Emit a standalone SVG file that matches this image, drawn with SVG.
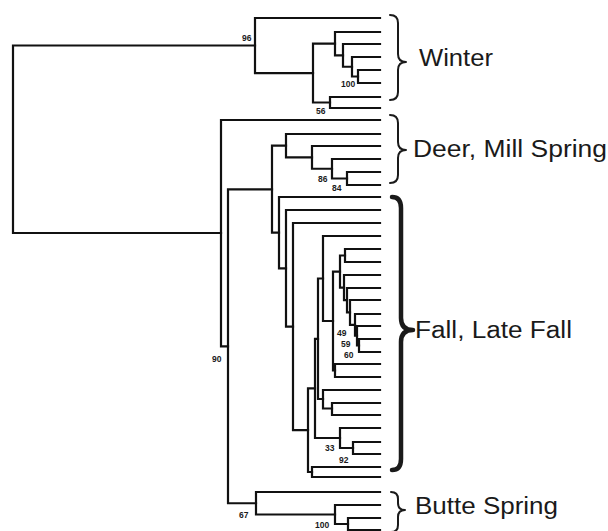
<svg xmlns="http://www.w3.org/2000/svg" width="608" height="531" viewBox="0 0 608 531">
<style>
.br{fill:none;stroke:#111;stroke-width:2.2;stroke-linecap:square;stroke-linejoin:miter}
.bs{font-family:"Liberation Sans",Arial,sans-serif;font-size:8.5px;font-weight:bold;fill:#1a1a1a}
.brace{fill:none;stroke:#1a1a1a;stroke-width:2;stroke-linecap:round;stroke-linejoin:round}
.lab{font-family:"Liberation Sans",Arial,sans-serif;font-size:23px;fill:#1a1a1a}
</style>
<rect width="608" height="531" fill="#fff"/>
<g id="connectors" class="br">
<path d="M255,45.5 H13 V233 H221"/>
<path d="M380,18 H255 V73.1 H313"/>
<path d="M335,43.7 H313 V102.5 H330"/>
<path d="M380,32 H335 V55.4 H343"/>
<path d="M380,44 H343 V66.75 H352"/>
<path d="M380,57 H352 V76.5 H358"/>
<path d="M380,70 H358 V83 H380"/>
<path d="M380,97 H330 V108 H380"/>
<path d="M380,120 H221 V346.3 H228"/>
<path d="M272,189.3 H228 V503.25 H256"/>
<path d="M286,145.7 H272 V232.7 H279"/>
<path d="M380,134 H286 V157.4 H312"/>
<path d="M380,146 H312 V168.75 H332"/>
<path d="M380,159 H332 V178.5 H347"/>
<path d="M380,172 H347 V185 H380"/>
<path d="M380,197 H279 V268.3 H286"/>
<path d="M380,210 H286 V326.6 H293"/>
<path d="M380,223 H293 V430.2 H308"/>
<path d="M315,388.4 H308 V472 H312"/>
<path d="M380,467 H312 V477 H380"/>
<path d="M318,338.8 H315 V438 H340"/>
<path d="M380,428 H340 V448 H353"/>
<path d="M380,442 H353 V454 H380"/>
<path d="M323,278.5 H318 V399 H323"/>
<path d="M380,390 H323 V408.5 H332"/>
<path d="M380,403 H332 V415 H380"/>
<path d="M380,236 H323 V321 H333"/>
<path d="M340,271.6 H333 V370.5 H335"/>
<path d="M380,364 H335 V377 H380"/>
<path d="M345,255.5 H340 V287.6 H344"/>
<path d="M380,249 H345 V262 H380"/>
<path d="M380,275 H344 V300.2 H347"/>
<path d="M380,288 H347 V312.4 H350"/>
<path d="M380,300 H350 V324.9 H355"/>
<path d="M380,314 H355 V335.75 H357"/>
<path d="M380,326 H357 V345.5 H359"/>
<path d="M380,339 H359 V352 H380"/>
<path d="M380,492 H256 V514.5 H335"/>
<path d="M380,505 H335 V524 H348"/>
<path d="M380,518 H348 V530 H380"/>
</g>
<g id="support">
<text class="bs" x="242" y="41">96</text>
<text class="bs" x="341" y="87">100</text>
<text class="bs" x="316" y="114">56</text>
<text class="bs" x="318" y="182">86</text>
<text class="bs" x="332" y="191">84</text>
<text class="bs" x="212" y="362">90</text>
<text class="bs" x="337" y="336">49</text>
<text class="bs" x="341" y="347">59</text>
<text class="bs" x="344" y="358">60</text>
<text class="bs" x="325" y="451">33</text>
<text class="bs" x="339" y="463">92</text>
<text class="bs" x="239" y="518">67</text>
<text class="bs" x="315" y="528">100</text>
</g>
<g id="winter">
<path class="brace" d="M390,15 Q398,15 398,23 V54 Q398,62 406,62 Q398,62 398,70 V92 Q398,100 390,100"/>
<text class="lab" x="419" y="66" textLength="74" lengthAdjust="spacingAndGlyphs">Winter</text>
</g>
<g id="deer-mill-spring">
<path class="brace" d="M390,115 Q398,115 398,123 V142 Q398,150 406,150 Q398,150 398,158 V175 Q398,183 390,183"/>
<text class="lab" x="413" y="157" textLength="194" lengthAdjust="spacingAndGlyphs">Deer, Mill Spring</text>
</g>
<g id="fall-late-fall">
<path class="brace" style="stroke-width:4.5" d="M392,197 Q401,197 401,208 V318 Q401,330 413,330 Q401,330 401,342 V459 Q401,470 392,470"/>
<text class="lab" x="415" y="338" textLength="157" lengthAdjust="spacingAndGlyphs">Fall, Late Fall</text>
</g>
<g id="butte-spring">
<path class="brace" d="M391,492 Q398,492 398,499 V503 Q398,510 405,510 Q398,510 398,517 V525 Q398,532 391,532"/>
<text class="lab" x="415" y="514" textLength="143" lengthAdjust="spacingAndGlyphs">Butte Spring</text>
</g>
</svg>
